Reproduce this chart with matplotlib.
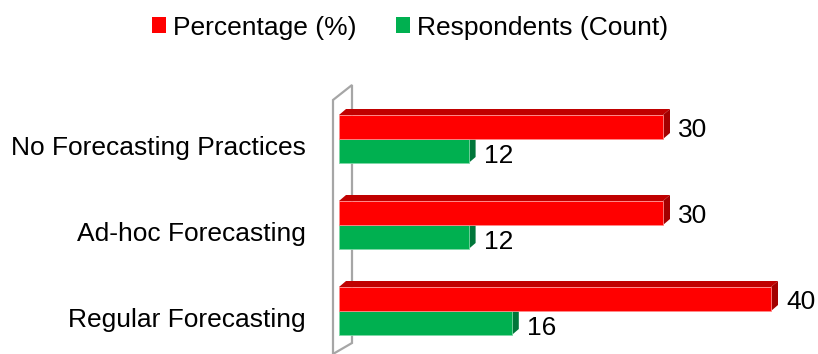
import matplotlib
matplotlib.use("Agg")
import matplotlib.pyplot as plt
from matplotlib.patches import Polygon, Patch
import numpy as np

plt.rcParams['font.family'] = ['Liberation Sans', 'DejaVu Sans']

# --- data -------------------------------------------------------------
categories = ["Regular Forecasting", "Ad-hoc Forecasting", "No Forecasting Practices"]
percentage = [40, 30, 30]
respondents = [16, 12, 12]
series_names = ["Percentage (%)", "Respondents (Count)"]

# --- styling ----------------------------------------------------------
RED, RED_TOP, RED_SIDE = "#FF0000", "#C00000", "#A30000"
GREEN, GREEN_TOP, GREEN_SIDE = "#00B050", "#008A3E", "#00763A"
WALL = "#A6A6A6"
FS = 19

W, H, DPI = 818, 354, 100
PX_X = 10.8          # pixels per value unit
PX_Y = 86.0          # pixels per category step
X0 = 339             # pixel column of the value axis origin
Y0 = 43              # pixel row (from bottom) of the first category

fig = plt.figure(figsize=(W / DPI, H / DPI), dpi=DPI)
ax = fig.add_axes([X0 / W, 0, (W - X0) / W, 1])
ax.set_xlim(0, (W - X0) / PX_X)
ax.set_ylim(-Y0 / PX_Y, (H - Y0) / PX_Y)
ax.axis("off")


def px_x(p):
    return p / PX_X


def px_y(p):
    return p / PX_Y


pos = np.arange(len(categories))
h = px_y(24)                 # bar thickness
dx, dy = px_x(7), px_y(6)    # 3-D depth offset

# side wall of the 3-D plot area
wall = Polygon([(px_x(-6), px_y(-47)), (px_x(-6), px_y(211)),
                (px_x(13), px_y(226)), (px_x(13), px_y(-32)),
                (px_x(-6), px_y(-43))],
               closed=False, fill=False, edgecolor=WALL, linewidth=1.6,
               clip_on=False, zorder=1)
ax.add_patch(wall)


def bar3d(y, value, color, top, side, edge):
    bottom, upper = y - h / 2, y + h / 2
    ax.add_patch(Polygon([(0, upper), (value, upper), (value + dx, upper + dy), (dx, upper + dy)],
                         closed=True, facecolor=top, edgecolor="none", zorder=2, clip_on=False))
    ax.add_patch(Polygon([(value, bottom), (value, upper), (value + dx, upper + dy), (value + dx, bottom + dy)],
                         closed=True, facecolor=side, edgecolor="none", zorder=2, clip_on=False))
    ax.barh(y, value, height=h, left=0, color=color, edgecolor=edge, linewidth=0.6, zorder=3)


for i in pos:
    bar3d(i - h / 2, respondents[i], GREEN, GREEN_TOP, GREEN_SIDE, "#7FD8A7")
    bar3d(i + h / 2, percentage[i], RED, RED_TOP, RED_SIDE, "#FF8A8A")

# value labels
for i in pos:
    ax.text(percentage[i] + px_x(15), i + h / 2 - px_y(10), f"{percentage[i]}",
            fontsize=FS, ha="left", va="baseline", color="black", zorder=5)
    ax.text(respondents[i] + px_x(15), i - h / 2 - px_y(12), f"{respondents[i]}",
            fontsize=FS, ha="left", va="baseline", color="black", zorder=5)

# category labels
for i, name in zip(pos, categories):
    ax.text(-px_x(33), i - px_y(16), name, fontsize=FS, ha="right", va="baseline",
            color="black", clip_on=False)

# legend
handles = [Patch(facecolor=RED, edgecolor="none"), Patch(facecolor=GREEN, edgecolor="none")]
fig.legend(handles, series_names, loc="center", bbox_to_anchor=(410 / W, 1 - 27.5 / H),
           ncol=2, frameon=False, fontsize=FS, handlelength=0.53, handleheight=0.53,
           handletextpad=0.26, columnspacing=1.5, borderpad=0, borderaxespad=0)

fig.savefig("out.png", dpi=DPI)
